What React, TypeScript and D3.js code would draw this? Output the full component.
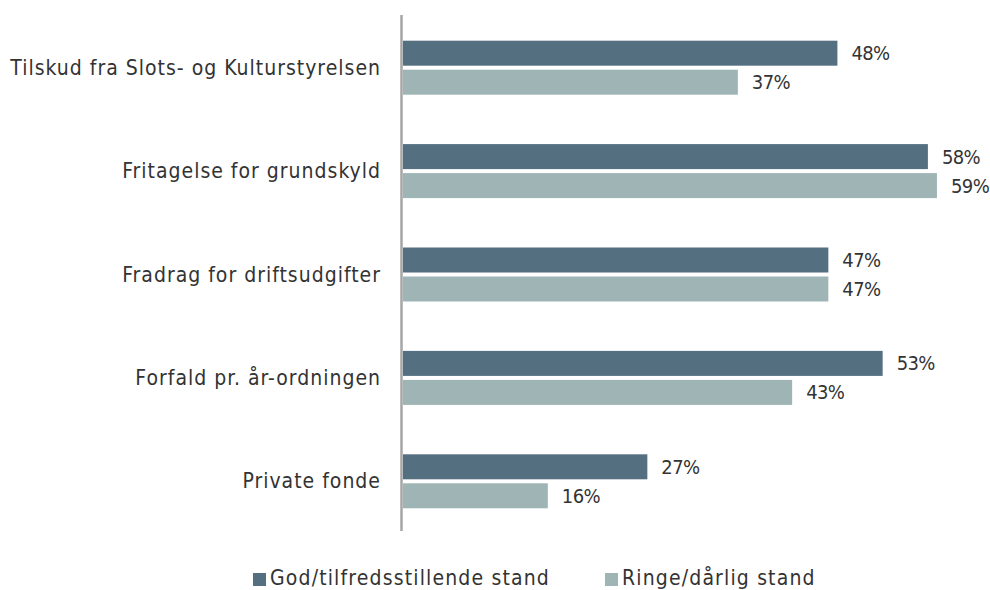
import React from "react";
import * as d3 from "d3";

const categories = [
  "Tilskud fra Slots- og Kulturstyrelsen",
  "Fritagelse for grundskyld",
  "Fradrag for driftsudgifter",
  "Forfald pr. år-ordningen",
  "Private fonde",
];
const seriesNames = ["God/tilfredsstillende stand", "Ringe/dårlig stand"];
const godValues = [48, 58, 47, 53, 27];
const ringeValues = [37, 59, 47, 43, 16];
const colors = ["#546f80", "#9fb5b5"];

const W = 990;
const H = 590;
const FONT = "'DejaVu Sans Condensed', 'DejaVu Sans', sans-serif";

export default function App() {
  const x = d3.scaleLinear().domain([0, 60]).range([403, 946]);
  const y = d3.scaleBand<string>().domain(categories).range([16, 533]);
  const barH = 25;
  const gap = 4;
  const series = [godValues, ringeValues];
  return (
    <svg width={W} height={H} style={{ position: "absolute", left: 0, top: 0 }}>
      <rect width={W} height={H} fill="#fff" />
      <line x1={401.5} x2={401.5} y1={15} y2={531} stroke="#a6a6a6" strokeWidth={2.5} />
      {categories.map((c, i) => {
        const cy = (y(c) as number) + y.bandwidth() / 2;
        return (
          <g key={c}>
            <text x={381} y={cy} textAnchor="end" dominantBaseline="central" fontFamily={FONT} fontSize={21} letterSpacing={1.0} fill="#333">
              {c}
            </text>
            {series.map((vals, s) => {
              const top = s === 0 ? cy - gap / 2 - barH : cy + gap / 2;
              return (
                <g key={s}>
                  <rect x={x(0)} y={top} width={x(vals[i]) - x(0)} height={barH} fill={colors[s]} />
                  <text x={x(vals[i]) + 14} y={top + barH / 2} dominantBaseline="central" fontFamily={FONT} fontSize={20} letterSpacing={-0.6} fill="#333">
                    {vals[i]}%
                  </text>
                </g>
              );
            })}
          </g>
        );
      })}
      {seriesNames.map((n, s) => {
        const lx = s === 0 ? 253 : 605;
        return (
          <g key={n}>
            <rect x={lx} y={573} width={13} height={13} fill={colors[s]} />
            <text x={lx + 17} y={578} dominantBaseline="central" fontFamily={FONT} fontSize={21} letterSpacing={1.15} fill="#333">
              {n}
            </text>
          </g>
        );
      })}
    </svg>
  );
}
